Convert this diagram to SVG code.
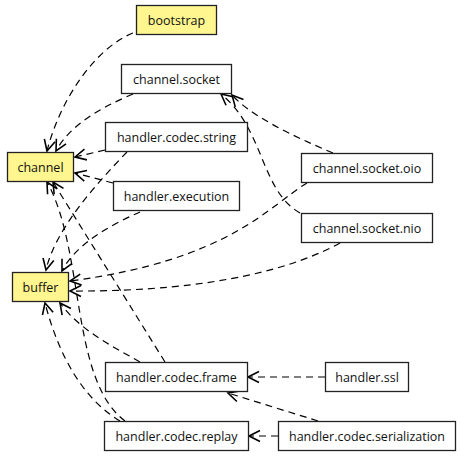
<svg xmlns="http://www.w3.org/2000/svg" width="461" height="456" viewBox="0 0 461 456">
<style>
.n rect{fill:#fff;stroke:#222;stroke-width:1.3}
.y rect{fill:#fff68f}
.n text{font-family:"Open Sans","DejaVu Sans",sans-serif;font-size:12.5px;fill:#111;text-anchor:middle}
.e path{fill:none;stroke:#000;stroke-width:1.2;stroke-dasharray:7,5;marker-end:url(#a)}
</style>
<defs>
<marker id="a" markerUnits="userSpaceOnUse" markerWidth="14" markerHeight="14" viewBox="-12 -7 14 14" refX="0" refY="0" orient="auto">
<path d="M-11,-5.5 L0,0 L-11,5.5" fill="none" stroke="#000" stroke-width="1.6"/>
</marker>
</defs>
<rect width="461" height="456" fill="#fff"/>
<g class="e">
<path d="M133,33 C95,48 60,100 47,151"/>
<path d="M133,94 C100,108 70,125 56,151"/>
<path d="M105,150 L75,157"/>
<path d="M113,183 L75,173"/>
<path d="M127,152 C95,185 55,230 46,270"/>
<path d="M140,212 C110,225 75,245 62,271"/>
<path d="M307,183 C270,205 230,260 70,281"/>
<path d="M340,243 C300,265 220,292 70,291"/>
<path d="M165,362 L53,182"/>
<path d="M125,421 C70,380 85,250 47,182"/>
<path d="M140,362 C110,345 80,330 60,303"/>
<path d="M120,421 C85,400 60,360 45,303"/>
<path d="M333,153 C290,135 250,115 232,95"/>
<path d="M300,213 C260,190 265,130 221,94"/>
<path d="M325,377 L248,377"/>
<path d="M318,421 L228,393"/>
<path d="M278,436 L249,436"/>
</g>
<g id="bootstrap" class="n y"><rect x="136.5" y="5.5" width="80" height="29"/><text x="176.5" y="24.5">bootstrap</text></g>
<g id="channel.socket" class="n"><rect x="121.5" y="64.5" width="110" height="29"/><text x="176.5" y="83.5">channel.socket</text></g>
<g id="handler.codec.string" class="n"><rect x="105.5" y="122.5" width="142" height="29"/><text x="176.5" y="141.5">handler.codec.string</text></g>
<g id="channel" class="n y"><rect x="7.5" y="152.5" width="66" height="29"/><text x="40.5" y="171.5">channel</text></g>
<g id="handler.execution" class="n"><rect x="113.5" y="181.5" width="126" height="29"/><text x="176.5" y="200.5">handler.execution</text></g>
<g id="buffer" class="n y"><rect x="12.5" y="272.5" width="56" height="29"/><text x="40.5" y="291.5">buffer</text></g>
<g id="channel.socket.oio" class="n"><rect x="301.5" y="153.5" width="131" height="29"/><text x="367" y="172.5">channel.socket.oio</text></g>
<g id="channel.socket.nio" class="n"><rect x="301.5" y="213.5" width="131" height="29"/><text x="367" y="232.5">channel.socket.nio</text></g>
<g id="handler.codec.frame" class="n"><rect x="105.5" y="362.5" width="142" height="29"/><text x="176.5" y="381.5">handler.codec.frame</text></g>
<g id="handler.ssl" class="n"><rect x="325.5" y="362.5" width="83" height="29"/><text x="367" y="381.5">handler.ssl</text></g>
<g id="handler.codec.replay" class="n"><rect x="104.5" y="421.5" width="144" height="29"/><text x="176.5" y="440.5">handler.codec.replay</text></g>
<g id="handler.codec.serialization" class="n"><rect x="278.5" y="421.5" width="177" height="29"/><text x="367" y="440.5">handler.codec.serialization</text></g>
</svg>
